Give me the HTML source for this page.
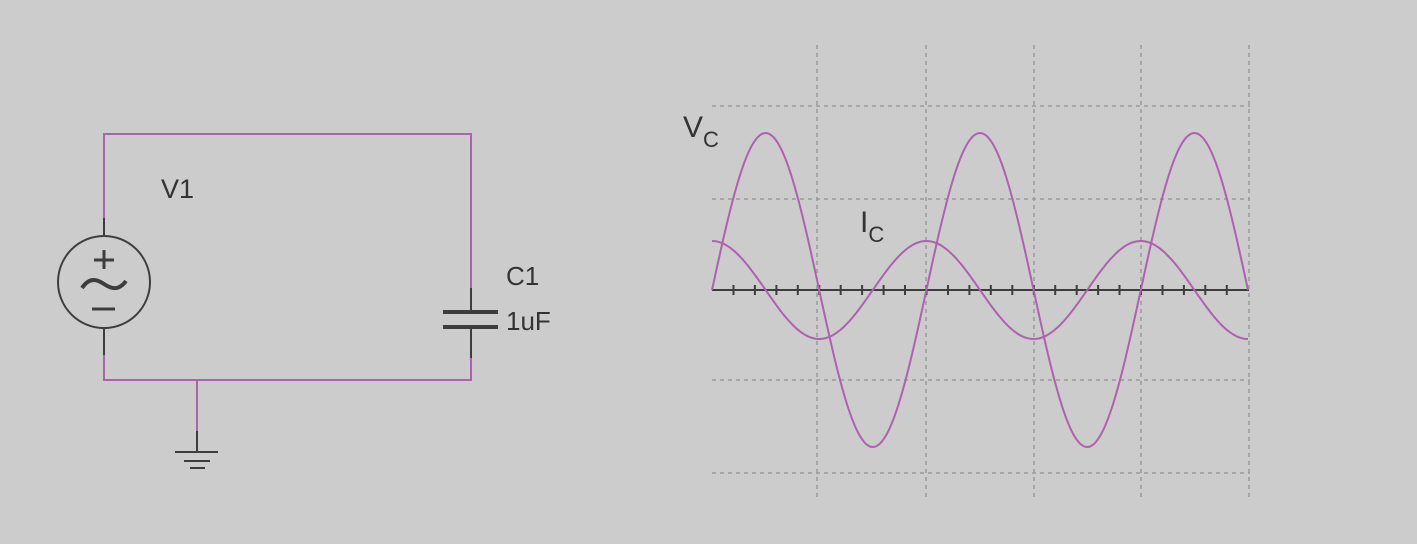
<!DOCTYPE html>
<html><head><style>body{margin:0;background:#cccccc}svg{display:block}text{font-family:"Liberation Sans",sans-serif;fill:#333}</style></head>
<body>
<svg width="1417" height="544" xmlns="http://www.w3.org/2000/svg">
<rect width="1417" height="544" fill="#cccccc"/>
<g stroke="#ae62ae" stroke-width="2" fill="none">
<polyline points="104,218 104,134 471,134 471,288"/>
<polyline points="104,355 104,380 471,380 471,358"/>
<line x1="197" y1="380" x2="197" y2="431"/>
</g>
<g stroke="#3d3d3d" stroke-width="2" fill="none">
<line x1="104" y1="218" x2="104" y2="236"/>
<line x1="104" y1="328" x2="104" y2="355"/>
<circle cx="104" cy="282" r="46"/>
<line x1="197" y1="431" x2="197" y2="452"/>
<line x1="175" y1="452" x2="218" y2="452"/>
<line x1="184" y1="461" x2="210" y2="461"/>
<line x1="190" y1="468" x2="205" y2="468"/>
<line x1="471" y1="288" x2="471" y2="312"/>
<line x1="471" y1="327" x2="471" y2="358"/>
<line x1="443" y1="312" x2="498" y2="312" stroke-width="4"/>
<line x1="443" y1="327" x2="498" y2="327" stroke-width="4"/>
<line x1="94" y1="260" x2="114" y2="260" stroke-width="3"/>
<line x1="104" y1="250" x2="104" y2="269" stroke-width="3"/>
<line x1="92" y1="309" x2="115" y2="309" stroke-width="3"/>
<path d="M82,288 C90,276 98,280 104,284 C110,288 118,292 126,281" stroke-width="4"/>
</g>
<text x="161" y="198" font-size="27">V1</text>
<text x="506" y="285" font-size="26">C1</text>
<text x="506" y="330" font-size="26">1uF</text>
<text x="683" y="137" font-size="30">V<tspan font-size="22" dy="10">C</tspan></text>
<text x="860" y="232" font-size="30">I<tspan font-size="22" dy="10">C</tspan></text>
<g stroke="#999" stroke-width="1.5" stroke-dasharray="4,4">
<line x1="817" y1="45" x2="817" y2="500"/>
<line x1="926" y1="45" x2="926" y2="500"/>
<line x1="1034" y1="45" x2="1034" y2="500"/>
<line x1="1141" y1="45" x2="1141" y2="500"/>
<line x1="1249" y1="45" x2="1249" y2="500"/>
<line x1="712" y1="106" x2="1250" y2="106"/>
<line x1="712" y1="199" x2="1250" y2="199"/>
<line x1="712" y1="380" x2="1250" y2="380"/>
<line x1="712" y1="473" x2="1250" y2="473"/>
</g>
<g stroke="#3d3d3d" stroke-width="2">
<line x1="712" y1="290" x2="1249" y2="290"/>
<path id="ticks" d=""/>
</g>
<path id="vc" stroke="#ae62ae" stroke-width="2" fill="none"/>
<path id="ic" stroke="#ae62ae" stroke-width="2" fill="none"/>
<script>
var t='';for(var i=1;i<25;i++){var x=712+i*21.45;t+='M'+x.toFixed(1)+',285V295';}
document.getElementById('ticks').setAttribute('d',t);
var v='',c='';for(var x=712;x<=1248;x+=2){var p=Math.PI*(x-712)/107.2;
v+=(x==712?'M':'L')+x+','+(290-157*Math.sin(p)).toFixed(1);
c+=(x==712?'M':'L')+x+','+(290-49*Math.cos(p)).toFixed(1);}
document.getElementById('vc').setAttribute('d',v);
document.getElementById('ic').setAttribute('d',c);
</script>
</svg>
</body></html>
